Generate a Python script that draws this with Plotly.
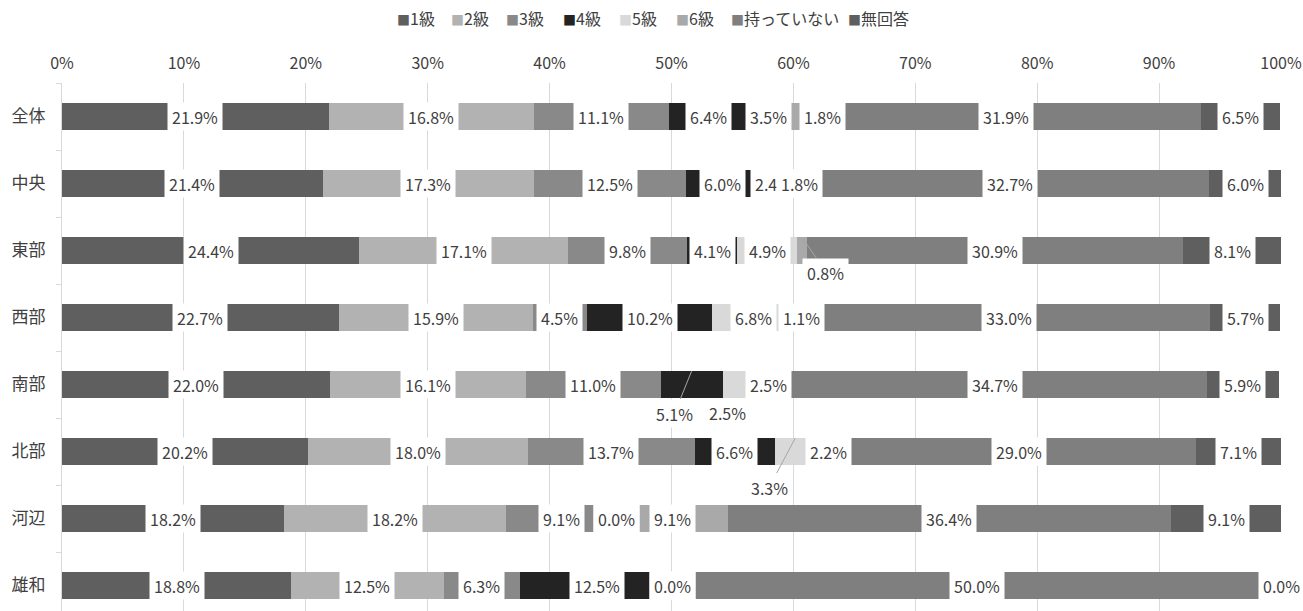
import plotly.graph_objects as go

categories = ["全体", "中央", "東部", "西部", "南部", "北部", "河辺", "雄和"]
series_names = ["1級", "2級", "3級", "4級", "5級", "6級", "持っていない", "無回答"]

s_1kyu = [21.9, 21.4, 24.4, 22.7, 22.0, 20.2, 18.2, 18.8]
s_2kyu = [16.8, 17.3, 17.1, 15.9, 16.1, 18.0, 18.2, 12.5]
s_3kyu = [11.1, 12.5, 9.8, 4.5, 11.0, 13.7, 9.1, 6.3]
s_4kyu = [6.4, 6.0, 4.1, 10.2, 5.1, 6.6, 0.0, 12.5]
s_5kyu = [3.5, 2.4, 4.9, 6.8, 2.5, 3.3, 0.0, 0.0]
s_6kyu = [1.8, 1.8, 0.8, 1.1, 2.5, 2.2, 9.1, 0.0]
s_none = [31.9, 32.7, 30.9, 33.0, 34.7, 29.0, 36.4, 50.0]
s_noans = [6.5, 6.0, 8.1, 5.7, 5.9, 7.1, 9.1, 0.0]

series_values = [s_1kyu, s_2kyu, s_3kyu, s_4kyu, s_5kyu, s_6kyu, s_none, s_noans]
colors = ["#5f5f5f", "#b2b2b2", "#898989", "#232323", "#d9d9d9", "#a9a9a9", "#7f7f7f", "#5f5f5f"]

FONT = "Noto Sans CJK JP"
TXT = "#404040"

W, H = 1303, 611
ML, MR, MT, MB = 62, 22, 83, 0
PW = W - ML - MR
PH = H - MT - MB

fig = go.Figure()
for name, vals, col in zip(series_names, series_values, colors):
    fig.add_trace(go.Bar(
        y=categories, x=vals, name=name, orientation="h",
        marker=dict(color=col, line=dict(width=0)),
        width=0.4, hoverinfo="skip", showlegend=False,
    ))

# label placement tweaks (style only)
shifted = {("全体", "6級"): dict(xshift=22),
           ("南部", "5級"): dict(xshift=-10, yshift=-28)}
leader = {("東部", "6級"): (24, 35),
          ("南部", "4級"): (-17, 42),
          ("北部", "5級"): (-26, 49)}

annotations = []
for ci, cat in enumerate(categories):
    cum = 0.0
    for si, name in enumerate(series_names):
        v = series_values[si][ci]
        xc = min(cum + v / 2, 100.0)
        cum += v
        base = dict(text=f"{v:.1f}%", xref="x", yref="y", bgcolor="white",
                    borderpad=4, height=19,
                    font=dict(family=FONT, size=16, color=TXT))
        key = (cat, name)
        if key in leader:
            ax, ay = leader[key]
            base.update(x=xc, y=ci - 0.2, showarrow=True, arrowhead=0,
                        arrowwidth=1, arrowcolor="#a6a6a6", ax=ax, ay=ay,
                        axref="pixel", ayref="pixel", standoff=0)
        else:
            base.update(x=xc, y=ci, showarrow=False)
            if key in shifted:
                base.update(shifted[key])
        annotations.append(base)

# legend drawn as text items (square + name), positioned in page pixels
legend_px = [395, 449, 504, 561, 617, 674, 729, 846]
legend_y = 1 + (MT - 18) / PH
for name, col, px in zip(series_names, colors, legend_px):
    annotations.append(dict(
        text=f"<span style='color:{col};font-size:13px'>■</span>{name}",
        xref="paper", yref="paper", x=(px - ML) / PW, y=legend_y,
        xanchor="left", yanchor="middle", showarrow=False,
        font=dict(family=FONT, size=16, color=TXT)))

fig.update_layout(
    width=W, height=H,
    margin=dict(l=ML, r=MR, t=MT, b=MB, autoexpand=False),
    barmode="stack",
    plot_bgcolor="white", paper_bgcolor="white",
    font=dict(family=FONT, size=16, color=TXT),
    showlegend=False,
    annotations=annotations,
    xaxis=dict(side="top", range=[0, 100], dtick=10, ticksuffix="%",
               showgrid=True, gridcolor="#d9d9d9", gridwidth=1,
               zeroline=False, showline=False, ticks="",
               ticklabelstandoff=10, automargin=False,
               tickfont=dict(family=FONT, size=16, color=TXT)),
    yaxis=dict(type="category", range=[7.38, -0.5], showgrid=False,
               showline=True, linecolor="#d9d9d9", linewidth=1,
               ticks="outside", tickson="boundaries", ticklen=5,
               tickcolor="#d9d9d9", ticklabelstandoff=12, automargin=False,
               tickfont=dict(family=FONT, size=17, color=TXT)),
)

fig.write_html("out.html", config={"displayModeBar": False},
               post_script="document.body.style.margin='0px';document.body.style.overflow='hidden';")
